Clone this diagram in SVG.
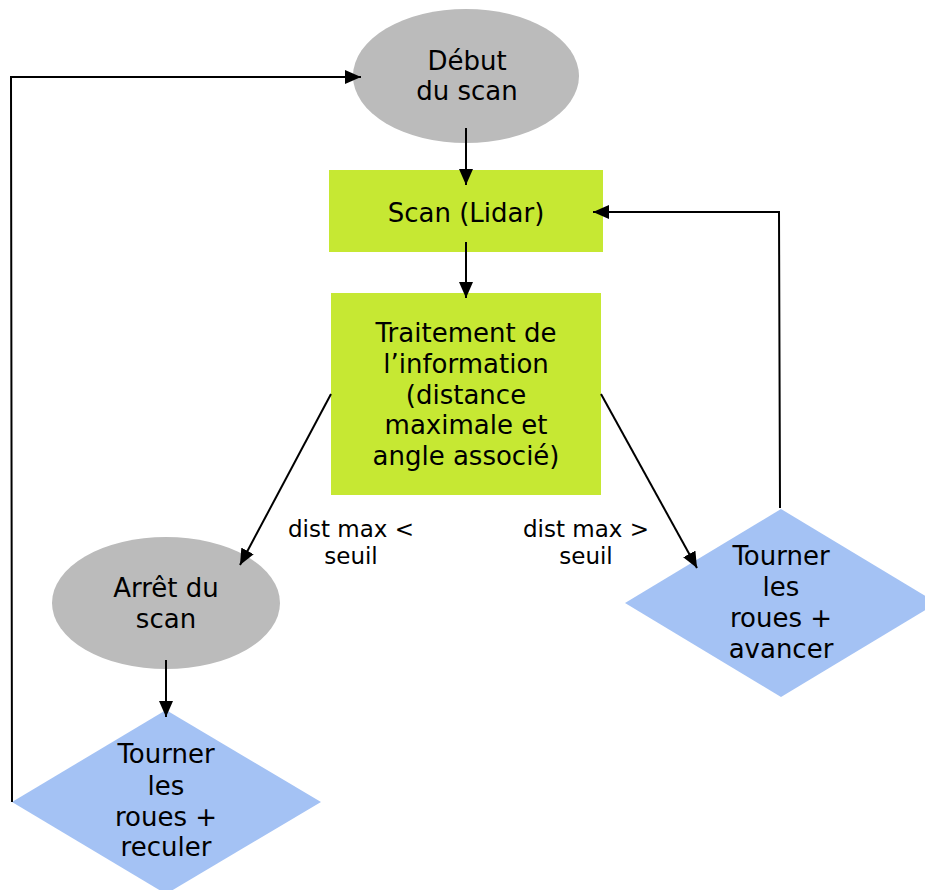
<svg xmlns="http://www.w3.org/2000/svg" width="925" height="890" viewBox="0 0 925 890">
<defs>
<style>
.t{font-family:"DejaVu Sans",Verdana,sans-serif;font-size:26px;fill:#000;text-anchor:middle}
.l{font-family:"DejaVu Sans",Verdana,sans-serif;font-size:23px;fill:#000;text-anchor:middle}
.gray{fill:#bbbbbb}
.green{fill:#c6e833}
.blue{fill:#a4c2f4}
.c{fill:none;stroke:#000;stroke-width:2}
</style>
<marker id="ah" viewBox="0 0 16 14" refX="16" refY="7" markerWidth="16" markerHeight="14" markerUnits="userSpaceOnUse" orient="auto">
<path d="M0,0 L16,7 L0,14 Z" fill="#000"/>
</marker>
</defs>
<rect width="925" height="890" fill="#fff"/>
<g id="debut">
<ellipse class="gray" cx="466" cy="76" rx="113" ry="67"/>
<text class="t" x="467" y="70">Début</text>
<text class="t" x="467" y="100">du scan</text>
</g>
<g id="scan">
<rect class="green" x="329" y="170" width="274" height="82"/>
<text class="t" x="466" y="222">Scan (Lidar)</text>
</g>
<g id="traitement">
<rect class="green" x="331" y="293" width="270" height="202"/>
<text class="t" x="466" y="342">Traitement de</text>
<text class="t" x="466" y="373">l’information</text>
<text class="t" x="466" y="404">(distance</text>
<text class="t" x="466" y="434">maximale et</text>
<text class="t" x="466" y="465">angle associé)</text>
</g>
<g id="arret">
<ellipse class="gray" cx="166" cy="603" rx="114" ry="66"/>
<text class="t" x="166" y="597">Arrêt du</text>
<text class="t" x="166" y="628">scan</text>
</g>
<g id="avancer">
<polygon class="blue" points="781,509 937,603 781,697 625,603"/>
<text class="t" x="781" y="565">Tourner</text>
<text class="t" x="781" y="596">les</text>
<text class="t" x="781" y="627">roues +</text>
<text class="t" x="781" y="658">avancer</text>
</g>
<g id="reculer">
<polygon class="blue" points="166,710 321,802 166,894 12,802"/>
<text class="t" x="166" y="763">Tourner</text>
<text class="t" x="166" y="795">les</text>
<text class="t" x="166" y="826">roues +</text>
<text class="t" x="166" y="856">reculer</text>
</g>
<g id="labels">
<text class="l" x="351" y="537">dist max &lt;</text>
<text class="l" x="351" y="564">seuil</text>
<text class="l" x="586" y="537">dist max &gt;</text>
<text class="l" x="586" y="564">seuil</text>
</g>
<g id="connectors">
<path class="c" d="M466,128 L466,185" marker-end="url(#ah)"/>
<path class="c" d="M466,242 L466,298" marker-end="url(#ah)"/>
<path class="c" d="M331,394 L240,565" marker-end="url(#ah)"/>
<path class="c" d="M601,394 L697,568" marker-end="url(#ah)"/>
<path class="c" d="M780,508 L779,212 L593,212" marker-end="url(#ah)"/>
<path class="c" d="M166,660 L166,717" marker-end="url(#ah)"/>
<path class="c" d="M12,802 L11,77 L361,77" marker-end="url(#ah)"/>
</g>
</svg>
